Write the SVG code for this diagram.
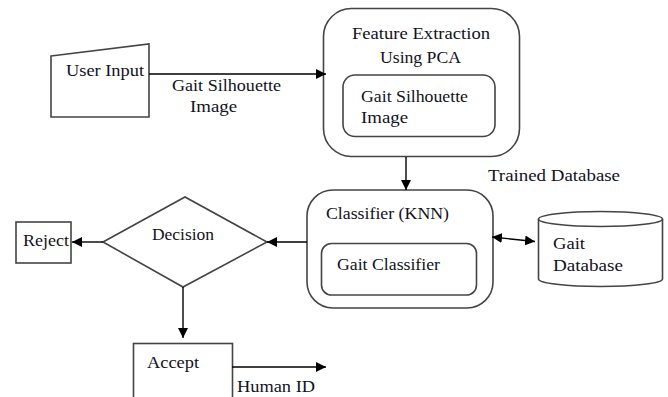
<svg xmlns="http://www.w3.org/2000/svg" width="668" height="397" viewBox="0 0 668 397">
<defs>
<marker id="ah" viewBox="0 0 10 10" refX="10" refY="5" markerWidth="10" markerHeight="10" markerUnits="userSpaceOnUse" orient="auto-start-reverse">
<path d="M0,0 L10,5 L0,10 z" fill="#000"/>
</marker>
<style>
.t{font-family:'Liberation Serif',serif;font-size:16px;fill:#111122}
.s{fill:#fff;stroke:#444;stroke-width:1.6}
.c{fill:none;stroke:#000;stroke-width:1.4}
</style>
</defs>
<rect width="668" height="397" fill="#fff"/>
<g id="user-input">
<path class="s" d="M51,56 L149,44 L149,117 L51,117 Z"/>
<text class="t" x="66" y="76" textLength="78" lengthAdjust="spacingAndGlyphs">User Input</text>
</g>
<g id="feature-extraction">
<rect class="s" x="323.5" y="8.5" width="196" height="148" rx="28"/>
<text class="t" x="352" y="39" textLength="138" lengthAdjust="spacingAndGlyphs">Feature Extraction</text>
<text class="t" x="380" y="63" textLength="81" lengthAdjust="spacingAndGlyphs">Using PCA</text>
<rect class="s" x="343" y="75" width="152" height="61.5" rx="12"/>
<text class="t" x="361" y="102" textLength="107" lengthAdjust="spacingAndGlyphs">Gait Silhouette</text>
<text class="t" x="361" y="123" textLength="47" lengthAdjust="spacingAndGlyphs">Image</text>
</g>
<g id="classifier">
<rect class="s" x="307" y="190" width="186" height="118" rx="26"/>
<text class="t" x="326" y="219" textLength="123" lengthAdjust="spacingAndGlyphs">Classifier  (KNN)</text>
<rect class="s" x="321.5" y="243.5" width="155" height="51.5" rx="10"/>
<text class="t" x="337" y="270" textLength="103" lengthAdjust="spacingAndGlyphs">Gait Classifier</text>
</g>
<g id="gait-database">
<path class="s" d="M538.5,219 L538.5,279 A62,7.5 0 0 0 662.5,279 L662.5,219"/>
<ellipse class="s" cx="600.5" cy="219" rx="62" ry="7.5"/>
<text class="t" x="553" y="249" textLength="32" lengthAdjust="spacingAndGlyphs">Gait</text>
<text class="t" x="553" y="271" textLength="70" lengthAdjust="spacingAndGlyphs">Database</text>
</g>
<g id="decision">
<path class="s" d="M103,242 L185,197 L267,242 L183,287 Z"/>
<text class="t" x="152" y="240" textLength="62" lengthAdjust="spacingAndGlyphs">Decision</text>
</g>
<g id="reject">
<rect class="s" x="16" y="222" width="55" height="41"/>
<text class="t" x="23" y="246" textLength="46" lengthAdjust="spacingAndGlyphs">Reject</text>
</g>
<g id="accept">
<rect class="s" x="133.5" y="343.5" width="99" height="60"/>
<text class="t" x="147" y="368" textLength="52" lengthAdjust="spacingAndGlyphs">Accept</text>
</g>
<g id="connectors">
<line class="c" x1="149" y1="74" x2="326" y2="74" marker-end="url(#ah)"/>
<line class="c" x1="406" y1="157" x2="406" y2="190" marker-end="url(#ah)"/>
<line class="c" x1="307" y1="242" x2="267" y2="242" marker-end="url(#ah)"/>
<line class="c" x1="103" y1="242" x2="72" y2="242" marker-end="url(#ah)"/>
<line class="c" x1="183" y1="287" x2="183" y2="338" marker-end="url(#ah)"/>
<line class="c" x1="232" y1="367" x2="326" y2="367" marker-end="url(#ah)"/>
<line class="c" x1="492" y1="237" x2="535" y2="241.5" marker-start="url(#ah)" marker-end="url(#ah)"/>
</g>
<g id="labels">
<text class="t" x="172" y="91" textLength="109" lengthAdjust="spacingAndGlyphs">Gait Silhouette</text>
<text class="t" x="190" y="112" textLength="47" lengthAdjust="spacingAndGlyphs">Image</text>
<text class="t" x="488" y="181" textLength="132" lengthAdjust="spacingAndGlyphs">Trained Database</text>
<text class="t" x="237" y="392" textLength="78" lengthAdjust="spacingAndGlyphs">Human ID</text>
</g>
</svg>
